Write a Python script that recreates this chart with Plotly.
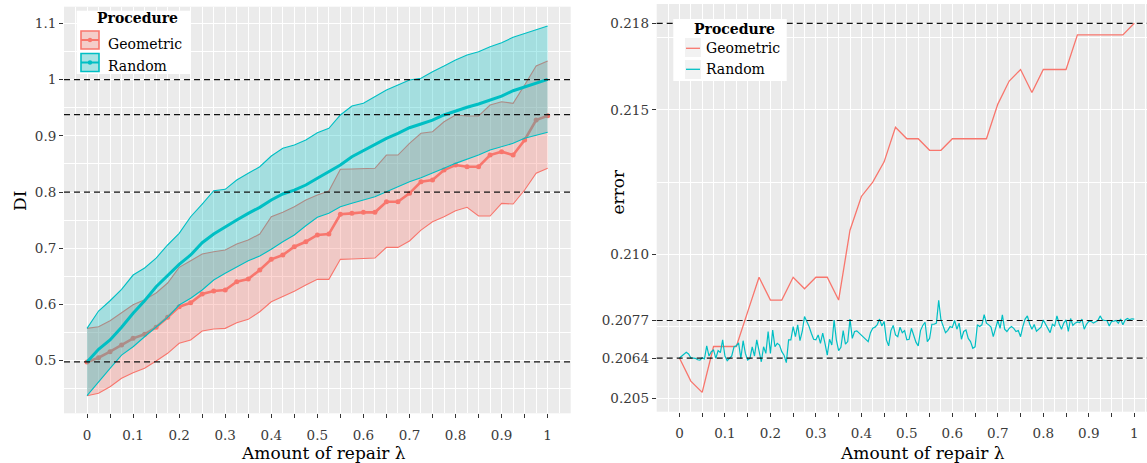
import numpy as np
import plotly.graph_objects as go

W, H = 1147, 463
RED = "#F8766D"
TEAL = "#00BFC4"
FONT = "DejaVu Serif"

# ---------------- data ----------------
# left panel: amount of repair grid (step 0.025)
lam = [round(i * 0.025, 3) for i in range(41)]

geo_lo = [0.4378, 0.442, 0.4538, 0.4687, 0.4787, 0.4865, 0.4995, 0.5132, 0.531, 0.5368,
          0.5528, 0.5564, 0.5576, 0.5676, 0.5736, 0.5871, 0.6049, 0.6138, 0.6236, 0.6346,
          0.6447, 0.6447, 0.6803, 0.681, 0.6816, 0.6826, 0.7016, 0.7016, 0.7129, 0.7324,
          0.7472, 0.7561, 0.7668, 0.7728, 0.7573, 0.7573, 0.7799, 0.7787, 0.8036, 0.8333,
          0.8422]
geo_mid = [0.4978, 0.5053, 0.516, 0.528, 0.5398, 0.547, 0.5594, 0.5772, 0.596, 0.6031,
           0.6186, 0.624, 0.6257, 0.6405, 0.6453, 0.6613, 0.6803, 0.688, 0.7027, 0.7116,
           0.7236, 0.7253, 0.7604, 0.7621, 0.7639, 0.7639, 0.7828, 0.7828, 0.7977, 0.8183,
           0.8214, 0.8391, 0.848, 0.845, 0.845, 0.8658, 0.8717, 0.8658, 0.8925, 0.928,
           0.9357]
geo_hi = [0.5576, 0.5605, 0.5711, 0.586, 0.5996, 0.6085, 0.6204, 0.6382, 0.6661, 0.6778,
          0.6898, 0.6938, 0.6969, 0.7075, 0.7147, 0.7253, 0.756, 0.7639, 0.7739, 0.7858,
          0.7947, 0.8018, 0.8404, 0.841, 0.8422, 0.8422, 0.8658, 0.8658, 0.8866, 0.9044,
          0.9073, 0.925, 0.937, 0.9352, 0.9352, 0.9548, 0.9606, 0.9578, 0.9903, 1.0241,
          1.033]
rnd_lo = [0.4378, 0.4627, 0.4865, 0.5101, 0.5249, 0.5427, 0.5605, 0.5772, 0.5991, 0.611,
          0.6257, 0.6435, 0.6554, 0.6672, 0.6778, 0.6862, 0.6981, 0.7116, 0.7236, 0.74,
          0.755, 0.7621, 0.7739, 0.7799, 0.7858, 0.7917, 0.8005, 0.8094, 0.8183, 0.8254,
          0.8333, 0.8422, 0.851, 0.8582, 0.8658, 0.8747, 0.8806, 0.8866, 0.8955, 0.9014,
          0.9062]
rnd_mid = [0.4978, 0.5203, 0.5368, 0.5594, 0.5843, 0.6067, 0.6316, 0.6506, 0.6714, 0.688,
           0.7099, 0.7253, 0.7383, 0.7502, 0.7621, 0.7728, 0.7858, 0.7965, 0.8035, 0.8125,
           0.8244, 0.8361, 0.848, 0.8628, 0.8735, 0.8854, 0.8955, 0.9044, 0.9144, 0.921,
           0.928, 0.937, 0.9441, 0.9507, 0.9565, 0.9636, 0.9707, 0.9802, 0.9873, 0.9933,
           1.0004]
rnd_hi = [0.5576, 0.5884, 0.6067, 0.627, 0.6524, 0.6649, 0.6826, 0.7058, 0.7266, 0.7561,
          0.7787, 0.8023, 0.8048, 0.8214, 0.8333, 0.845, 0.864, 0.8777, 0.8836, 0.8925,
          0.9055, 0.9133, 0.937, 0.953, 0.9578, 0.9695, 0.9814, 0.9903, 0.9992, 1.0022,
          1.014, 1.0241, 1.0348, 1.0437, 1.0496, 1.0584, 1.0656, 1.0751, 1.0822, 1.0894,
          1.0952]
di_refs = [1.0, 0.9375, 0.8, 0.498]

# right panel
geo_err = [0.2064, 0.2056, 0.20521, 0.2068, 0.2068, 0.2068, 0.2080, 0.2092, 0.20841, 0.20841,
           0.2092, 0.2088, 0.2092, 0.2092, 0.20841, 0.21083, 0.2120, 0.2125, 0.2132, 0.2144,
           0.2140, 0.2140, 0.2136, 0.2136, 0.2140, 0.2140, 0.2140, 0.2140, 0.2152, 0.2160,
           0.2164, 0.2156, 0.2164, 0.2164, 0.2164, 0.2176, 0.2176, 0.2176, 0.2176, 0.2176,
           0.2180]
lam_fine = [round(i * 0.005, 3) for i in range(201)]
rnd_err = [
    0.20640, 0.20646, 0.20654, 0.20660, 0.20654, 0.20641, 0.20640, 0.20639, 0.20634, 0.20633,
    0.20641, 0.20637, 0.20682, 0.20647, 0.20662, 0.20668, 0.20639, 0.20666, 0.20659, 0.20703,
    0.20647, 0.20631, 0.20639, 0.20647, 0.20679, 0.20682, 0.20693, 0.20639, 0.20700, 0.20656,
    0.20633, 0.20639, 0.20679, 0.20647, 0.20703, 0.20662, 0.20627, 0.20679, 0.20656, 0.20732,
    0.20656, 0.20737, 0.20679, 0.20691, 0.20685, 0.20662, 0.20650, 0.20624, 0.20703, 0.20703,
    0.20749, 0.20714, 0.20755, 0.20700, 0.20732, 0.20784, 0.20767, 0.20749, 0.20726, 0.20705,
    0.20703, 0.20720, 0.20691, 0.20726, 0.20691, 0.20650, 0.20705, 0.20685, 0.20772, 0.20703,
    0.20666, 0.20677, 0.20735, 0.20688, 0.20697, 0.20775, 0.20708, 0.20732, 0.20734, 0.20726,
    0.20719, 0.20712, 0.20703, 0.20697, 0.20728, 0.20743, 0.20747, 0.20756, 0.20775, 0.20751,
    0.20767, 0.20703, 0.20682, 0.20735, 0.20753, 0.20720, 0.20714, 0.20747, 0.20728, 0.20735,
    0.20703, 0.20705, 0.20743, 0.20720, 0.20695, 0.20682, 0.20735, 0.20753, 0.20764, 0.20697,
    0.20708, 0.20757, 0.20757, 0.20761, 0.20840, 0.20772, 0.20749, 0.20728, 0.20736, 0.20749,
    0.20746, 0.20770, 0.20740, 0.20761, 0.20705, 0.20732, 0.20737, 0.20708, 0.20697, 0.20674,
    0.20679, 0.20755, 0.20749, 0.20755, 0.20790, 0.20761, 0.20755, 0.20747, 0.20714, 0.20747,
    0.20770, 0.20743, 0.20790, 0.20740, 0.20732, 0.20743, 0.20749, 0.20743, 0.20732, 0.20735,
    0.20714, 0.20749, 0.20775, 0.20786, 0.20758, 0.20740, 0.20756, 0.20733, 0.20741, 0.20747,
    0.20772, 0.20756, 0.20744, 0.20728, 0.20757, 0.20751, 0.20786, 0.20758, 0.20740, 0.20761,
    0.20772, 0.20732, 0.20777, 0.20753, 0.20761, 0.20765, 0.20763, 0.20775, 0.20740, 0.20757,
    0.20767, 0.20767, 0.20761, 0.20765, 0.20770, 0.20786, 0.20772, 0.20770, 0.20770, 0.20751,
    0.20767, 0.20768, 0.20770, 0.20761, 0.20775, 0.20755, 0.20772, 0.20777, 0.20773, 0.20776,
    0.20775]
err_refs = [0.218, 0.2077, 0.2064]

x_major = [round(i * 0.05, 2) for i in range(21)]
x_text = [("%g" % v if i % 2 == 0 else "") for i, v in enumerate(x_major)]
x_minor = [round(-0.025 + i * 0.05, 3) for i in range(23)]
left_y_ticks = [0.5, 0.6, 0.7, 0.8, 0.9, 1.0, 1.1]
left_y_text = ["0.5", "0.6", "0.7", "0.8", "0.9", "1", "1.1"]
left_y_minor = [0.45, 0.55, 0.65, 0.75, 0.85, 0.95, 1.05]
right_y_ticks = [0.205, 0.2064, 0.2077, 0.210, 0.215, 0.218]
right_y_text = ["0.205", "0.2064", "0.2077", "0.210", "0.215", "0.218"]
right_y_minor = [0.2075, 0.2125, 0.2175]

# ---------------- figure ----------------
fig = go.Figure()


def rgba(hexc, a):
    h = hexc.lstrip("#")
    return "rgba(%d,%d,%d,%s)" % (int(h[0:2], 16), int(h[2:4], 16), int(h[4:6], 16), a)


# Geometric ribbon + lines (left)
fig.add_trace(go.Scatter(x=lam, y=geo_lo, mode="lines", line=dict(width=0, color=RED),
                         xaxis="x", yaxis="y", showlegend=False, hoverinfo="skip"))
fig.add_trace(go.Scatter(x=lam, y=geo_hi, mode="lines", line=dict(width=0, color=RED),
                         fill="tonexty", fillcolor=rgba(RED, 0.3),
                         xaxis="x", yaxis="y", showlegend=False, hoverinfo="skip"))
fig.add_trace(go.Scatter(x=lam, y=geo_lo, mode="lines", line=dict(width=1.1, color=RED),
                         xaxis="x", yaxis="y", showlegend=False))
fig.add_trace(go.Scatter(x=lam, y=geo_hi, mode="lines", line=dict(width=1.1, color=RED),
                         xaxis="x", yaxis="y", showlegend=False))
fig.add_trace(go.Scatter(x=lam, y=geo_mid, mode="lines+markers", line=dict(width=2.6, color=RED),
                         marker=dict(size=5, color=RED), xaxis="x", yaxis="y", showlegend=False))
# Random ribbon + lines (left)
fig.add_trace(go.Scatter(x=lam, y=rnd_lo, mode="lines", line=dict(width=0, color=TEAL),
                         xaxis="x", yaxis="y", showlegend=False, hoverinfo="skip"))
fig.add_trace(go.Scatter(x=lam, y=rnd_hi, mode="lines", line=dict(width=0, color=TEAL),
                         fill="tonexty", fillcolor=rgba(TEAL, 0.3),
                         xaxis="x", yaxis="y", showlegend=False, hoverinfo="skip"))
fig.add_trace(go.Scatter(x=lam, y=rnd_lo, mode="lines", line=dict(width=1.1, color=TEAL),
                         xaxis="x", yaxis="y", showlegend=False))
fig.add_trace(go.Scatter(x=lam, y=rnd_hi, mode="lines", line=dict(width=1.1, color=TEAL),
                         xaxis="x", yaxis="y", showlegend=False))
fig.add_trace(go.Scatter(x=lam, y=rnd_mid, mode="lines", line=dict(width=3, color=TEAL),
                         xaxis="x", yaxis="y", showlegend=False))

# right panel lines
fig.add_trace(go.Scatter(x=lam, y=geo_err, mode="lines", line=dict(width=1.3, color=RED),
                         xaxis="x2", yaxis="y2", showlegend=False))
fig.add_trace(go.Scatter(x=lam_fine, y=rnd_err, mode="lines", line=dict(width=1.2, color=TEAL),
                         xaxis="x2", yaxis="y2", showlegend=False))


def px(x):
    return x / W


def py(y):
    return 1 - y / H


tickfont = dict(family=FONT, size=13.5, color="#3a3a3a")
common_x = dict(tickmode="array", tickvals=x_major, ticktext=x_text, ticks="outside",
                ticklen=4, tickwidth=1.1, tickcolor="#333333", showgrid=True,
                gridcolor="white", gridwidth=1.1, zeroline=False, showline=False,
                tickfont=tickfont, ticklabelstandoff=5,
                minor=dict(tickvals=x_minor, showgrid=True, gridcolor="white",
                           gridwidth=0.6, ticks=""))

fig.update_layout(
    width=W, height=H, autosize=False,
    margin=dict(l=0, r=0, t=0, b=0),
    paper_bgcolor="white", plot_bgcolor="#EBEBEB",
    showlegend=False,
    font=dict(family=FONT, color="black"),
    xaxis=dict(domain=[px(64), px(570.7)], range=[-0.05, 1.05], anchor="y", **common_x),
    yaxis=dict(domain=[py(413.3), py(6.7)], range=[0.4065, 1.1296], anchor="x",
               tickmode="array", tickvals=left_y_ticks, ticktext=left_y_text,
               ticks="outside", ticklen=4, tickwidth=1.1, tickcolor="#333333",
               showgrid=True, gridcolor="white", gridwidth=1.1, zeroline=False,
               tickfont=tickfont,
               minor=dict(tickvals=left_y_minor, showgrid=True, gridcolor="white",
                          gridwidth=0.6, ticks="")),
    xaxis2=dict(domain=[px(656.7), 1.0], range=[-0.05, 1.028], anchor="y2", **common_x),
    yaxis2=dict(domain=[py(411.7), py(4)], range=[0.20454, 0.21867], anchor="x2",
                tickmode="array", tickvals=right_y_ticks, ticktext=right_y_text,
                ticks="outside", ticklen=4, tickwidth=1.1, tickcolor="#333333",
                showgrid=True, gridcolor="white", gridwidth=1.1, zeroline=False,
                tickfont=tickfont,
                minor=dict(tickvals=right_y_minor, showgrid=True, gridcolor="white",
                           gridwidth=0.6, ticks="")),
)

shapes = []
for v in di_refs:
    shapes.append(dict(type="line", xref="x domain", yref="y", x0=0, x1=1, y0=v, y1=v,
                       line=dict(color="#111111", width=1.2, dash="6px,4px"), layer="above"))
for v in err_refs:
    shapes.append(dict(type="line", xref="x2 domain", yref="y2", x0=0, x1=1, y0=v, y1=v,
                       line=dict(color="#111111", width=1.2, dash="6px,4px"), layer="above"))


def prect(x0, y0, x1, y1, fill, line_color=None, lw=0):
    return dict(type="rect", xref="paper", yref="paper", x0=px(x0), x1=px(x1),
                y0=py(y1), y1=py(y0), fillcolor=fill,
                line=dict(color=line_color or fill, width=lw), layer="above")


def pline(x0, y0, x1, y1, color, lw):
    return dict(type="line", xref="paper", yref="paper", x0=px(x0), x1=px(x1),
                y0=py(y0), y1=py(y1), line=dict(color=color, width=lw), layer="above")


def pdot(cx, cy, r, color):
    return dict(type="circle", xref="paper", yref="paper", x0=px(cx - r), x1=px(cx + r),
                y0=py(cy + r), y1=py(cy - r), fillcolor=color, line=dict(width=0),
                layer="above")


# left legend
shapes.append(prect(76.7, 10.7, 190, 74, "white"))
shapes.append(prect(81, 31, 99, 49, "#F4CDCA", RED, 1.6))
shapes.append(pline(81, 40, 99, 40, RED, 2))
shapes.append(pdot(90, 40, 2.2, RED))
shapes.append(prect(81, 53.5, 99, 71.5, "#A9E3E4", TEAL, 1.6))
shapes.append(pline(81, 62.5, 99, 62.5, TEAL, 2))
shapes.append(pdot(90, 62.5, 2.2, TEAL))
# right legend
shapes.append(prect(673.3, 19, 786.7, 81, "white"))
shapes.append(prect(685, 38, 701, 57, "#F2F2F2"))
shapes.append(pline(686, 48.3, 700, 48.3, RED, 1.3))
shapes.append(prect(685, 60, 701, 79, "#F2F2F2"))
shapes.append(pline(686, 69.3, 700, 69.3, TEAL, 1.3))
fig.update_layout(shapes=shapes)

leg_font = dict(family=FONT, size=14, color="black")
title_font = dict(family=FONT, size=17, color="black")
annotations = [
    dict(text="<b>Procedure</b>", x=px(137), y=py(18.5), xref="paper", yref="paper",
         showarrow=False, xanchor="center", yanchor="middle", font=leg_font),
    dict(text="Geometric", x=px(106), y=py(44), xref="paper", yref="paper",
         showarrow=False, xanchor="left", yanchor="middle", font=leg_font),
    dict(text="Random", x=px(106), y=py(65.5), xref="paper", yref="paper",
         showarrow=False, xanchor="left", yanchor="middle", font=leg_font),
    dict(text="<b>Procedure</b>", x=px(734.5), y=py(29), xref="paper", yref="paper",
         showarrow=False, xanchor="center", yanchor="middle", font=leg_font),
    dict(text="Geometric", x=px(704), y=py(48), xref="paper", yref="paper",
         showarrow=False, xanchor="left", yanchor="middle", font=leg_font),
    dict(text="Random", x=px(704), y=py(69.5), xref="paper", yref="paper",
         showarrow=False, xanchor="left", yanchor="middle", font=leg_font),
    dict(text="Amount of repair λ", x=px(323), y=py(453), xref="paper", yref="paper",
         showarrow=False, xanchor="center", yanchor="middle", font=title_font),
    dict(text="Amount of repair λ", x=px(922), y=py(453), xref="paper", yref="paper",
         showarrow=False, xanchor="center", yanchor="middle", font=title_font),
    dict(text="DI", x=px(20), y=py(201), xref="paper", yref="paper", textangle=-90,
         showarrow=False, xanchor="center", yanchor="middle", font=title_font),
    dict(text="error", x=px(617.5), y=py(192), xref="paper", yref="paper", textangle=-90,
         showarrow=False, xanchor="center", yanchor="middle", font=title_font),
]
fig.update_layout(annotations=annotations)

fig.write_html("out.html", config={"displayModeBar": False},
               post_script="document.body.style.margin='0';document.body.style.padding='0';")
